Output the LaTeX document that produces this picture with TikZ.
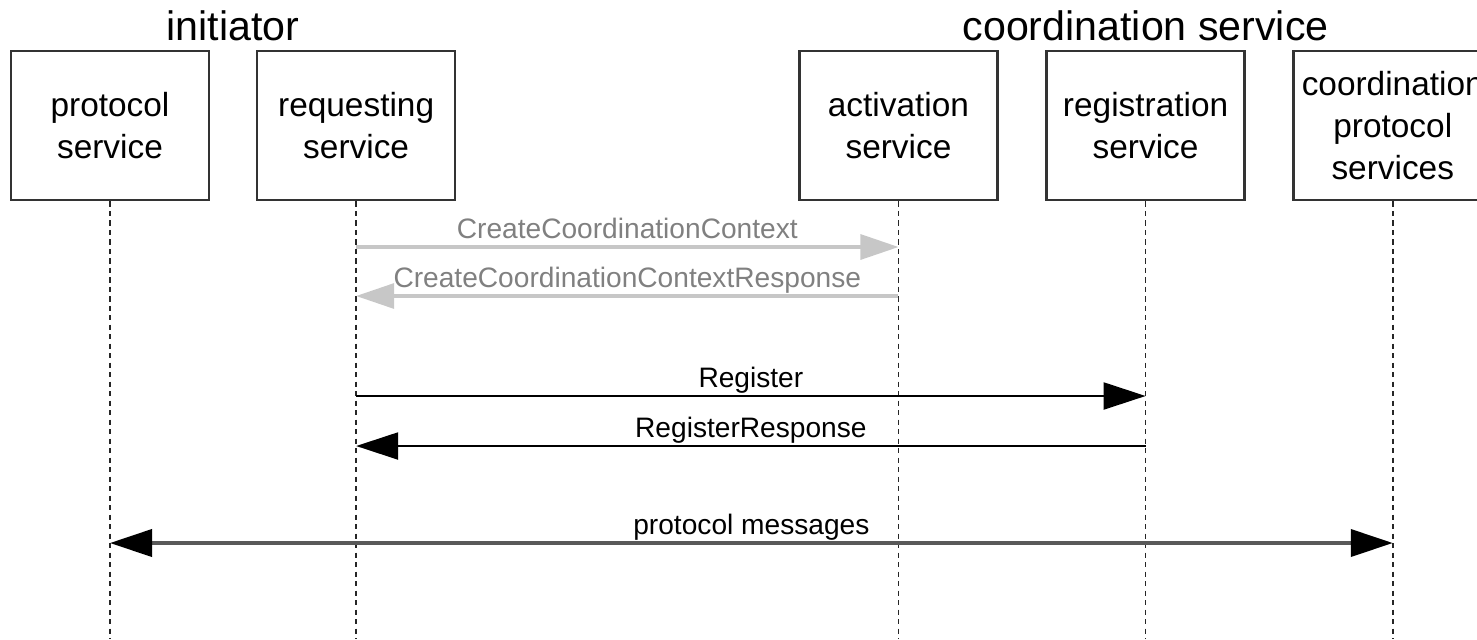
\documentclass[tikz,border=0pt]{standalone}
\usepackage{fontspec}
\setmainfont{Liberation Sans}
\usetikzlibrary{arrows.meta,calc}

\begin{document}
\begin{tikzpicture}[x=0.01cm,y=-0.01cm,
  box/.style={draw=black!80,line width=0.7pt,
      minimum width=1.98cm,minimum height=1.49cm,
      align=center,inner sep=0pt,
      font=\fontsize{9.5}{12}\selectfont},
  title/.style={anchor=south,text depth=0pt,inner sep=2.5pt,
      font=\fontsize{11.7}{14}\selectfont},
  life/.style={dash pattern=on 1.5pt off 1.2pt,line width=0.45pt,black!85},
  msg/.style={-{Triangle[length=0.42cm,width=0.27cm]},line width=0.6pt},
  lbl/.style={above,text depth=0pt,inner sep=2pt,
      font=\fontsize{8}{10}\selectfont}]

\def\colG{black!22};
\def\colT{black!50};

\useasboundingbox (0,0) rectangle (1477,639);

% participants
\node[box] (ps) at (110,125.5) {protocol\\service};
\node[box,right of=ps,node distance=2.46cm] (rs) {requesting\\service};
\node[box,right of=rs,node distance=5.42cm] (act) {activation\\service};
\node[box,right of=act,node distance=2.47cm] (reg) {registration\\service};
\node[box,right of=reg,node distance=2.47cm] (cps) {coordination\\protocol\\services};

\node[title] (init) at ($(ps.north)!0.5!(rs.north)$) {initiator};
\node[title] (coord) at (reg.north) {coordination service};

% lifelines
\foreach \n in {ps,rs,act,reg,cps}{
  \coordinate (\n-end) at (\n.south |- 0,639);
  \draw[life] (\n.south) -- (\n-end);
}

% message ends
\coordinate (cc-a) at (rs.south |- 0,247);
\coordinate (cc-b) at (act.south |- 0,247);
\coordinate (ccr-a) at (act.south |- 0,296);
\coordinate (ccr-b) at (rs.south |- 0,296);
\coordinate (reg-a) at (rs.south |- 0,396);
\coordinate (reg-b) at (reg.south |- 0,396);
\coordinate (rr-a) at (reg.south |- 0,446);
\coordinate (rr-b) at (rs.south |- 0,446);
\coordinate (pm-a) at (ps.south |- 0,543);
\coordinate (pm-b) at (cps.south |- 0,543);

% messages
\draw[msg,\colG,line width=0.9pt,
      -{Triangle[length=0.38cm,width=0.25cm]}]
      (cc-a) -- node[lbl,text=\colT]{CreateCoordinationContext} (cc-b);
\draw[msg,\colG,line width=0.9pt,
      -{Triangle[length=0.38cm,width=0.25cm]}]
      (ccr-a) -- node[lbl,text=\colT]{CreateCoordinationContextResponse} (ccr-b);

\draw[msg] (reg-a) -- node[lbl]{Register} (reg-b);
\draw[msg] (rr-a) -- node[lbl]{RegisterResponse} (rr-b);

\draw[black!65,line width=1.1pt,
      {Triangle[length=0.42cm,width=0.27cm,color=black]}-{Triangle[length=0.42cm,width=0.27cm,color=black]}]
      (pm-a) -- node[lbl,text=black]{protocol messages} (pm-b);

\end{tikzpicture}
\end{document}
